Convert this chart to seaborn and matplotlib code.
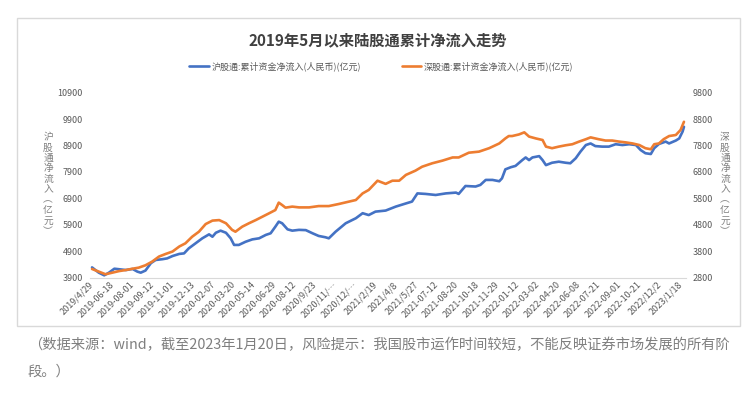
import matplotlib
matplotlib.use("Agg")
import matplotlib.pyplot as plt
import numpy as np
import pandas as pd
import seaborn as sns
from matplotlib.lines import Line2D
from matplotlib.patches import Rectangle

# x axis: trading-day index, one tick label every 30 trading days
tick_labels = [
    "2019/4/29", "2019-06-18", "2019-08-01", "2019-09-12", "2019-11-01",
    "2019-12-13", "2020-02-07", "2020-03-20", "2020-05-14", "2020-06-29",
    "2020-08-12", "2020/9/23", "2020/11/…", "2020/12/…", "2021/2/19",
    "2021/4/8", "2021/5/27", "2021-07-12", "2021-08-20", "2021-10-18",
    "2021-11-29", "2022-01-12", "2022-03-02", "2022-04-20", "2022-06-08",
    "2022-07-21", "2022-09-01", "2022-10-21", "2022/12/2", "2023/1/18",
]
tick_step = 30

# 沪股通 cumulative net inflow (left axis, 亿元)
sh_day = [
    0, 10, 18, 25, 33, 40, 50, 60, 67, 72, 79, 87, 94, 104, 111, 119, 129, 136,
    143, 153, 163, 173, 178, 183, 190, 198, 205, 210, 217, 227, 237, 247, 257,
    264, 271, 276, 281, 289, 296, 306, 316, 326, 335, 345, 350, 360, 375, 390,
    400, 409, 419, 434, 449, 464, 473, 481, 493, 508, 523, 538, 542, 552, 567,
    574, 582, 592, 602, 606, 611, 619, 626, 636, 641, 646, 651, 661, 666, 671,
    680, 690, 700, 707, 715, 722, 730, 737, 744, 754, 764, 774, 784, 794, 804,
    811, 818, 826, 831, 838, 848, 853, 863, 868, 873, 875,
]
sh_value = [
    4290, 4090, 3990, 4090, 4240, 4220, 4190, 4230, 4130, 4090, 4170, 4450,
    4570, 4600, 4630, 4720, 4800, 4820, 5010, 5200, 5390, 5540, 5450, 5600,
    5680, 5600, 5390, 5140, 5140, 5260, 5350, 5390, 5520, 5580, 5830, 6020,
    5960, 5730, 5680, 5710, 5700, 5580, 5480, 5430, 5390, 5640, 5960, 6150,
    6340, 6270, 6400, 6440, 6590, 6710, 6780, 7090, 7070, 7030, 7090, 7120,
    7070, 7370, 7350, 7410, 7600, 7600, 7550, 7660, 8000, 8080, 8130, 8350,
    8450, 8350, 8450, 8500, 8350, 8160, 8250, 8290, 8250, 8230, 8420, 8670,
    8920, 8980, 8880, 8860, 8860, 8950, 8920, 8950, 8920, 8730, 8610, 8580,
    8800, 8960, 9050, 8980, 9090, 9170, 9430, 9610,
]

# 深股通 cumulative net inflow (right axis, 亿元)
sz_day = [
    0, 10, 20, 30, 40, 50, 60, 69, 79, 89, 99, 109, 119, 129, 138, 148, 158,
    168, 178, 188, 198, 207, 212, 222, 232, 242, 252, 262, 271, 276, 281, 286,
    296, 306, 321, 335, 350, 365, 380, 390, 400, 409, 422, 434, 444, 454, 464,
    478, 488, 503, 518, 533, 542, 557, 572, 587, 602, 611, 616, 621, 631, 639,
    646, 656, 666, 671, 680, 690, 700, 710, 720, 730, 737, 749, 759, 769, 779,
    789, 799, 809, 818, 826, 831, 838, 845, 853, 863, 870, 875,
]
sz_value = [
    3130, 3030, 2930, 2990, 3050, 3090, 3140, 3180, 3270, 3410, 3600, 3700,
    3790, 3980, 4100, 4350, 4540, 4830, 4960, 4980, 4860, 4610, 4540, 4730,
    4860, 4980, 5110, 5240, 5360, 5640, 5550, 5450, 5490, 5460, 5460, 5510,
    5510, 5590, 5680, 5740, 5990, 6120, 6470, 6350, 6470, 6470, 6690, 6850,
    7000, 7130, 7230, 7350, 7350, 7530, 7570, 7700, 7880, 8070, 8160, 8160,
    8220, 8300, 8140, 8070, 8010, 7760, 7700, 7760, 7810, 7850, 7950, 8040,
    8110, 8040, 7990, 7990, 7950, 7920, 7880, 7820, 7700, 7660, 7850, 7880,
    8040, 8160, 8200, 8390, 8700,
]

left_ticks = list(range(3900, 10901, 1000))
right_ticks = list(range(2800, 9801, 1000))

sh_name = "沪股通:累计资金净流入(人民币)(亿元)"
sz_name = "深股通:累计资金净流入(人民币)(亿元)"
BLUE = "#4472C4"
ORANGE = "#ED7D31"
GREY = "#595959"

sns.set_theme(style="white")
plt.rcParams["font.family"] = ["Noto Sans CJK SC", "DejaVu Sans"]

fig = plt.figure(figsize=(7.55, 3.93), dpi=100)
ax = fig.add_axes([0.1192, 0.2934, 0.7894, 0.4707])
ax2 = ax.twinx()

sh = pd.DataFrame({"day": sh_day, "value": sh_value})
sz = pd.DataFrame({"day": sz_day, "value": sz_value})
sns.lineplot(data=sh, x="day", y="value", ax=ax, color=BLUE, linewidth=1.9,
             legend=False)
sns.lineplot(data=sz, x="day", y="value", ax=ax2, color=ORANGE, linewidth=1.9,
             legend=False)

ax.set_xlim(-3, 878)
ax.set_ylim(left_ticks[0], left_ticks[-1])
ax2.set_ylim(right_ticks[0], right_ticks[-1])
ax.set_yticks(left_ticks)
ax2.set_yticks(right_ticks)
ax.set_xticks(np.arange(len(tick_labels)) * tick_step)
ax.set_xticklabels(tick_labels, rotation=45, ha="right", va="center",
                   rotation_mode="anchor")
for a in (ax, ax2):
    a.set_xlabel("")
    a.set_ylabel("")
    a.tick_params(axis="both", length=0, labelsize=6.5, labelcolor=GREY, pad=5)
    for s in a.spines.values():
        s.set_visible(False)
ax.tick_params(axis="x", pad=4)
ax.spines["bottom"].set_visible(True)
ax.spines["bottom"].set_color("#d9d9d9")
ax.spines["bottom"].set_linewidth(0.8)

fig.text(0.5, 0.898, "2019年5月以来陆股通累计净流入走势", ha="center",
         va="center", fontsize=11, fontweight="bold", color="#404040")

handles = [Line2D([], [], color=BLUE, lw=1.9), Line2D([], [], color=ORANGE, lw=1.9)]
fig.legend(handles, [sh_name, sz_name], loc="center", ncol=2,
           bbox_to_anchor=(0.505, 0.832), frameon=False, fontsize=6.5,
           handlelength=2.2, handletextpad=0.3, columnspacing=4.5,
           labelcolor=GREY)

stack = lambda s: "\n".join(s)
fig.text(48 / 755, 1 - 184 / 393, stack("沪股通净流入︵亿元︶"), ha="center",
         va="center", fontsize=7, color="#7f7f7f", linespacing=1.05)
fig.text(725 / 755, 1 - 184 / 393, stack("深股通净流入︵亿元︶"), ha="center",
         va="center", fontsize=7, color="#7f7f7f", linespacing=1.05)

fig.add_artist(Rectangle((17 / 755, 1 - 326 / 393), 723 / 755, 308 / 393,
                         transform=fig.transFigure, fill=False,
                         edgecolor="#d9d9d9", linewidth=1))

fig.text(28 / 755, 1 - 345 / 393,
         "（数据来源：wind，截至2023年1月20日，风险提示：我国股市运作时间较短，不能反映证券市场发展的所有阶",
         ha="left", va="center", fontsize=10.3, color="#7f7f7f")
fig.text(28 / 755, 1 - 372 / 393, "段。）", ha="left", va="center",
         fontsize=10.3, color="#7f7f7f")

fig.savefig("out.png", dpi=100)
